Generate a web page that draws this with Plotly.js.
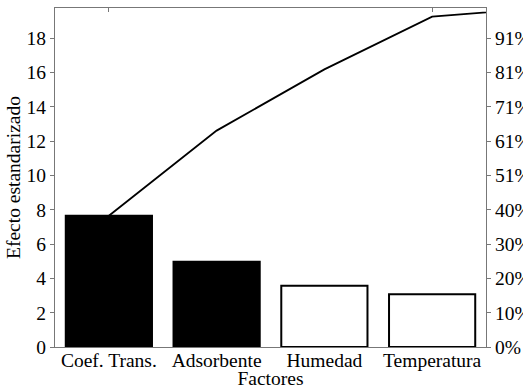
<!DOCTYPE html>
<html><head><meta charset="utf-8">
<script src="https://cdn.plot.ly/plotly-3.0.1.min.js"></script>
<style>body{margin:0;background:#fff}#c{width:523px;height:389px}</style>
</head><body><div id="c"></div>
<script>
const categories = ['Coef. Trans.', 'Adsorbente', 'Humedad', 'Temperatura'];
const effects = [7.65, 4.97, 3.57, 3.08];
const otherEffect = [0.5];           // remaining factor beyond shown bars
const barFills = ['#000000', '#000000', '#ffffff', '#ffffff'];
const leftTicks = [0, 2, 4, 6, 8, 10, 12, 14, 16, 18];
const pctLabels = ['0%', '10%', '20%', '30%', '40%', '51%', '61%', '71%', '81%', '91%'];

const allVals = effects.concat(otherEffect);
const total = allVals.reduce((a, b) => a + b, 0);
const cumX = [], cumY = [];
let s = 0;
allVals.forEach((v, i) => { s += v; cumX.push(i + 1); cumY.push(s); });
const xPos = categories.map((_, i) => i + 1);

const font = {family: 'Liberation Serif, Times New Roman, serif', size: 19.5, color: '#000'};
const axCol = '#777';

const traces = [
  {type: 'bar', x: xPos, y: effects, width: 0.8,
   marker: {color: barFills, line: {color: '#000', width: 2}},
   xaxis: 'x', yaxis: 'y', hoverinfo: 'skip'},
  {type: 'scatter', mode: 'lines', x: cumX, y: cumY,
   line: {color: '#000', width: 1.8}, xaxis: 'x2', yaxis: 'y2', hoverinfo: 'skip'}
];

const layout = {
  width: 523, height: 389,
  margin: {l: 55, r: 37, t: 8, b: 42},
  paper_bgcolor: '#fff', plot_bgcolor: '#fff',
  showlegend: false, font: font,
  xaxis: {range: [0.5, 4.5], tickvals: xPos, ticktext: categories, ticks: '', ticklabelstandoff: -4,
          showline: true, linecolor: axCol, linewidth: 1, showgrid: false, zeroline: false,
          title: {text: 'Factores', font: font, standoff: 0}, tickfont: font},
  xaxis2: {overlaying: 'x', side: 'top', range: [0.5, 4.5], tickvals: [1, 4], showticklabels: false,
           ticks: 'inside', ticklen: 4, tickcolor: axCol, showline: true, linecolor: axCol,
           showgrid: false, zeroline: false},
  yaxis: {range: [0, total], tickvals: leftTicks, ticks: 'outside', ticklen: 4, tickcolor: axCol,
          showline: true, linecolor: axCol, showgrid: false, zeroline: false, tickfont: font,
          title: {text: 'Efecto estandarizado', font: font, standoff: 0}},
  yaxis2: {overlaying: 'y', side: 'right', range: [0, total], tickvals: leftTicks, ticktext: pctLabels,
           ticks: 'outside', ticklen: 4, tickcolor: axCol, showline: true, linecolor: axCol,
           showgrid: false, zeroline: false, tickfont: font}
};
Plotly.newPlot('c', traces, layout, {staticPlot: true});
</script></body></html>
